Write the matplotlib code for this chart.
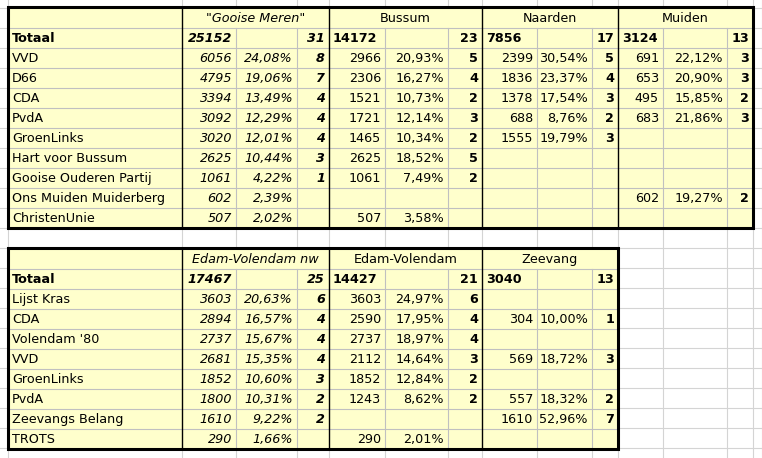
import matplotlib
matplotlib.use("Agg")
import matplotlib.pyplot as plt
from matplotlib.patches import Rectangle

# ---------------- data ----------------
t1_groups = ['"Gooise Meren"', "Bussum", "Naarden", "Muiden"]
t1_totals = [(25152, 31), (14172, 23), (7856, 17), (3124, 13)]
t1_parties = ["VVD", "D66", "CDA", "PvdA", "GroenLinks", "Hart voor Bussum",
              "Gooise Ouderen Partij", "Ons Muiden Muiderberg", "ChristenUnie"]
t1_votes = [
    [6056, 4795, 3394, 3092, 3020, 2625, 1061, 602, 507],
    [2966, 2306, 1521, 1721, 1465, 2625, 1061, None, 507],
    [2399, 1836, 1378, 688, 1555, None, None, None, None],
    [691, 653, 495, 683, None, None, None, 602, None],
]
t1_pct = [
    [24.08, 19.06, 13.49, 12.29, 12.01, 10.44, 4.22, 2.39, 2.02],
    [20.93, 16.27, 10.73, 12.14, 10.34, 18.52, 7.49, None, 3.58],
    [30.54, 23.37, 17.54, 8.76, 19.79, None, None, None, None],
    [22.12, 20.90, 15.85, 21.86, None, None, None, 19.27, None],
]
t1_seats = [
    [8, 7, 4, 4, 4, 3, 1, None, None],
    [5, 4, 2, 3, 2, 5, 2, None, None],
    [5, 4, 3, 2, 3, None, None, None, None],
    [3, 3, 2, 3, None, None, None, 2, None],
]

t2_groups = ["Edam-Volendam nw", "Edam-Volendam", "Zeevang"]
t2_totals = [(17467, 25), (14427, 21), (3040, 13)]
t2_parties = ["Lijst Kras", "CDA", "Volendam '80", "VVD", "GroenLinks", "PvdA",
              "Zeevangs Belang", "TROTS"]
t2_votes = [
    [3603, 2894, 2737, 2681, 1852, 1800, 1610, 290],
    [3603, 2590, 2737, 2112, 1852, 1243, None, 290],
    [None, 304, None, 569, None, 557, 1610, None],
]
t2_pct = [
    [20.63, 16.57, 15.67, 15.35, 10.60, 10.31, 9.22, 1.66],
    [24.97, 17.95, 18.97, 14.64, 12.84, 8.62, None, 2.01],
    [None, 10.00, None, 18.72, None, 18.32, 52.96, None],
]
t2_seats = [
    [6, 4, 4, 4, 3, 2, 2, None],
    [6, 4, 4, 3, 2, 2, None, None],
    [None, 1, None, 3, None, 2, 7, None],
]

# ---------------- layout ----------------
W, H = 762, 458
colx = [8, 182, 236, 297, 329, 385, 448, 482, 537, 592, 618, 663, 727, 753]
grid_x = colx + [762]
RH = 20
YELLOW = "#FFFFCC"
GRID = "#D4D4D4"
INNER = "#C0C0C0"
FS = 9.2

fig = plt.figure(figsize=(W / 100, H / 100), dpi=100)
ax = fig.add_axes([0, 0, 1, 1])
ax.set_xlim(0, W)
ax.set_ylim(H, 0)
ax.axis("off")

for x in grid_x:
    ax.plot([x, x], [0, H], color=GRID, lw=0.8, zorder=0)
for y in range(8, H, RH):
    ax.plot([0, W], [y, y], color=GRID, lw=0.8, zorder=0)


def fmt_pct(v):
    return ("%.2f" % v).replace(".", ",") + "%"


def draw_table(top, groups, totals, parties, votes, pct, seats):
    ngroups = len(groups)
    right = colx[1 + 3 * ngroups]
    nrows = len(parties) + 2
    bottom = top + 1 + RH * nrows
    ax.add_patch(Rectangle((colx[0], top), right - colx[0], bottom - top,
                           facecolor=YELLOW, edgecolor="none", zorder=1))
    for r in range(1, nrows):
        y = top + 1 + RH * r
        ax.plot([colx[0], right], [y, y], color=INNER, lw=0.8, zorder=2)
    for g in range(ngroups):
        for k in (1, 2):
            x = colx[1 + 3 * g + k]
            ax.plot([x, x], [top + 1 + RH, bottom], color=INNER, lw=0.8, zorder=2)
    for g in range(ngroups + 1):
        x = colx[1 + 3 * g]
        ax.plot([x, x], [top, bottom], color="black", lw=1.0, zorder=3)
    ax.add_patch(Rectangle((colx[0], top), right - colx[0], bottom - top,
                           facecolor="none", edgecolor="black", lw=2.2, zorder=4))

    def cy(r):
        return top + 1 + RH * r + RH / 2 + 0.5

    for g, name in enumerate(groups):
        x0, x1 = colx[1 + 3 * g], colx[4 + 3 * g]
        ax.text((x0 + x1) / 2, cy(0), name, ha="center", va="center", fontsize=FS,
                style="italic" if g == 0 else "normal", zorder=5)
    ax.text(colx[0] + 4, cy(1), "Totaal", ha="left", va="center", fontsize=FS,
            weight="bold", zorder=5)
    for g, (tv, ts) in enumerate(totals):
        b = 1 + 3 * g
        sty = "italic" if g == 0 else "normal"
        if g == 0:
            ax.text(colx[b + 1] - 4, cy(1), str(tv), ha="right", va="center",
                    fontsize=FS, weight="bold", style=sty, zorder=5)
        else:
            ax.text(colx[b] + 4, cy(1), str(tv), ha="left", va="center",
                    fontsize=FS, weight="bold", zorder=5)
        ax.text(colx[b + 3] - 4, cy(1), str(ts), ha="right", va="center",
                fontsize=FS, weight="bold", style=sty, zorder=5)
    for i, p in enumerate(parties):
        r = i + 2
        ax.text(colx[0] + 4, cy(r), p, ha="left", va="center", fontsize=FS, zorder=5)
        for g in range(ngroups):
            b = 1 + 3 * g
            sty = "italic" if g == 0 else "normal"
            if votes[g][i] is not None:
                ax.text(colx[b + 1] - 4, cy(r), str(votes[g][i]), ha="right",
                        va="center", fontsize=FS, style=sty, zorder=5)
            if pct[g][i] is not None:
                ax.text(colx[b + 2] - 4, cy(r), fmt_pct(pct[g][i]), ha="right",
                        va="center", fontsize=FS, style=sty, zorder=5)
            if seats[g][i] is not None:
                ax.text(colx[b + 3] - 4, cy(r), str(seats[g][i]), ha="right",
                        va="center", fontsize=FS, weight="bold", style=sty, zorder=5)


draw_table(7, t1_groups, t1_totals, t1_parties, t1_votes, t1_pct, t1_seats)
draw_table(248, t2_groups, t2_totals, t2_parties, t2_votes, t2_pct, t2_seats)

fig.savefig("out.png", dpi=100, facecolor="white")
